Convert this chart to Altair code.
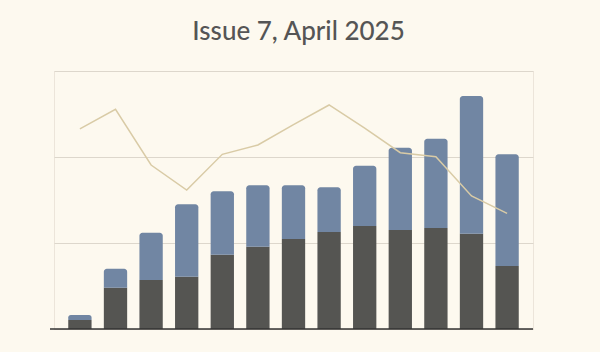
import altair as alt
import pandas as pd

categories = ["1", "2", "3", "4", "5", "6", "7", "8", "9", "10", "11", "12", "13"]
base_values = [10.5, 48, 57, 60.8, 86.4, 95.7, 104.7, 112.8, 119.8, 115.1, 117.4, 110.8, 73.3]
top_values = [5.8, 22.1, 55, 84.2, 73.7, 71.4, 62.4, 52, 70.1, 95.7, 103.9, 160.1, 129.8]
line_values = [232.6, 255.5, 190.7, 161.6, 203.1, 214, 237.6, 260.5, 233.7, 205, 200.3, 154.7, 134.5]

df = pd.DataFrame({
    "cat": categories,
    "base": base_values,
    "top": top_values,
    "line": line_values,
})
df["total"] = df["base"] + df["top"]

BG = "#fdf9ef"

x = alt.X(
    "cat:N",
    sort=categories,
    scale=alt.Scale(paddingInner=0.345, paddingOuter=0.4),
    axis=alt.Axis(title=None, labels=False, ticks=False, domain=False, grid=False),
)
yscale = alt.Scale(domain=[0, 300])

base = alt.Chart(df)

dark = base.mark_bar(color="#555552").encode(
    x=x,
    y=alt.Y(
        "base:Q",
        scale=yscale,
        axis=alt.Axis(
            title=None, labels=False, ticks=False, domain=False,
            values=[0, 100, 200, 300], gridColor="#ddd7cc", gridWidth=1,
        ),
    ),
)

blue = base.mark_bar(color="#7186a3", cornerRadiusTopLeft=3, cornerRadiusTopRight=3).encode(
    x=x,
    y=alt.Y("base:Q", scale=yscale),
    y2="total:Q",
)

line = base.mark_line(color="#d9cba6", strokeWidth=1.5).encode(
    x=x,
    y=alt.Y("line:Q", scale=yscale),
)

baseline = alt.Chart(pd.DataFrame({"v": [0]})).mark_rule(color="#333333", strokeWidth=1.5).encode(
    y=alt.Y("v:Q", scale=yscale),
    x=alt.value(-4),
    x2=alt.value(479),
)

chart = alt.layer(dark, blue, line, baseline).properties(
    width=479,
    height=258,
    title=alt.TitleParams(
        "Issue 7, April 2025",
        fontSize=26,
        font="Lato",
        fontWeight=500,
        color="#555555",
        anchor="middle",
        offset=26,
        dx=5,
    ),
    background=BG,
    padding={"left": 54, "top": 71, "right": 67, "bottom": 23},
    autosize=alt.AutoSizeParams(type="none"),
).configure_view(stroke="#ece5da", strokeWidth=1)

chart.save("out.html", embed_options={"renderer": "svg", "actions": False})
